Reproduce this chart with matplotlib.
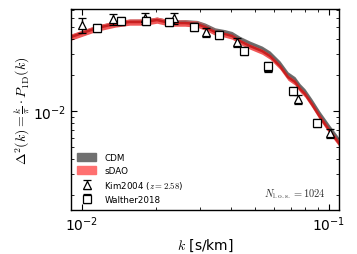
import matplotlib
matplotlib.use('Agg')
import matplotlib.pyplot as plt
from matplotlib.patches import Patch
from matplotlib.ticker import NullFormatter

plt.rcParams['mathtext.fontset'] = 'cm'
plt.rcParams['font.family'] = 'DejaVu Sans'

# model curves (k in s/km)
k_sim = [0.00903, 0.0103, 0.0115, 0.0136, 0.0156, 0.0180, 0.0201, 0.0227, 0.0261,
         0.0292, 0.0315, 0.0346, 0.0379, 0.0405, 0.0436, 0.0479, 0.0536, 0.0577,
         0.0633, 0.0682, 0.0728, 0.0763, 0.0799, 0.0853, 0.0920, 0.1009, 0.1098]
sdao_y = [0.0414, 0.0455, 0.0492, 0.0531, 0.0552, 0.0552, 0.0573, 0.0541, 0.0541,
          0.0531, 0.0501, 0.0455, 0.0438, 0.0422, 0.0383, 0.0348, 0.0316, 0.0287,
          0.0237, 0.0192, 0.0175, 0.0153, 0.0139, 0.0114, 0.0089, 0.0068, 0.0054]
cdm_y = [0.0415, 0.0456, 0.0494, 0.0533, 0.0555, 0.0556, 0.0577, 0.0547, 0.0550,
         0.0542, 0.0515, 0.0470, 0.0454, 0.0438, 0.0399, 0.0364, 0.0331, 0.0301,
         0.0249, 0.0202, 0.0184, 0.0161, 0.0146, 0.0120, 0.0094, 0.0072, 0.0057]

# Kim2004 (z = 2.58)
k_kim = [0.0100, 0.01335, 0.0180, 0.02357, 0.03177, 0.04241, 0.05662, 0.07489, 0.1009]
y_kim = [0.0521, 0.0584, 0.0596, 0.0596, 0.0455, 0.0376, 0.0233, 0.0126, 0.00655]
err_kim = [0.0075, 0.0065, 0.0065, 0.0060, 0.0040, 0.0033, 0.0020, 0.0011, 0.0006]

# Walther2018
k_wal = [0.0115, 0.01438, 0.01816, 0.0225, 0.02841, 0.03586, 0.04528, 0.05662, 0.07147, 0.08941]
y_wal = [0.0492, 0.0562, 0.0562, 0.0552, 0.0501, 0.0430, 0.0316, 0.0237, 0.0147, 0.00794]
err_wal = [0.0035, 0.0040, 0.0040, 0.0040, 0.0036, 0.0031, 0.0023, 0.0017, 0.0011, 0.0006]

fig = plt.figure(figsize=(3.57, 2.55), dpi=100)
ax = fig.add_axes([0.199, 0.1725, 0.7506, 0.7883])

# CDM band
ax.fill_between(k_sim, [v * 0.95 for v in cdm_y], [v * 1.05 for v in cdm_y],
                color='#707070', lw=0)
ax.plot(k_sim, cdm_y, color='#666666', lw=1.2)

# sDAO band
ax.fill_between(k_sim, [v * 0.94 for v in sdao_y], [v * 1.06 for v in sdao_y],
                color='#f05858', lw=0)
ax.plot(k_sim, sdao_y, color='#c82020', lw=1.8)

kim = ax.errorbar(k_kim, y_kim, yerr=err_kim, fmt='^', ms=5.5, mfc='white', mec='k',
                  mew=0.9, ecolor='k', elinewidth=1, capsize=3, capthick=1, zorder=5)
wal = ax.errorbar(k_wal, y_wal, yerr=err_wal, fmt='s', ms=5.5, mfc='white', mec='k',
                  mew=0.9, ecolor='k', elinewidth=1, capsize=3, capthick=1, zorder=6)

ax.set_xscale('log')
ax.set_yscale('log')
ax.set_xlim(0.00903, 0.1097)
ax.set_ylim(0.0015, 0.0708)
ax.yaxis.set_minor_formatter(NullFormatter())
ax.xaxis.set_minor_formatter(NullFormatter())

ax.tick_params(which='both', direction='in', top=True, right=True, labelsize=10)
ax.tick_params(which='major', length=4, width=0.8)
ax.tick_params(which='minor', length=2.2, width=0.6)
for s in ax.spines.values():
    s.set_linewidth(1)

ax.set_xlabel(r'$k$ [s/km]', fontsize=10, labelpad=2)
ax.set_ylabel(r'$\Delta^2(k) = \frac{k}{\pi}\cdot P_{\rm 1D}(k)$', fontsize=10, labelpad=1)

ax.text(0.95, 0.05, r'$N_{\rm l.o.s.} = 1024$', transform=ax.transAxes,
        ha='right', va='bottom', fontsize=7.5, color='#333333')

handles = [Patch(color='#707070'), Patch(color='#ff7070'), kim, wal]
labels = ['CDM', 'sDAO', r'Kim2004 ($z=2.58$)', 'Walther2018']
ax.legend(handles, labels, loc='lower left', fontsize=6.3, frameon=False,
          handlelength=2.2, handleheight=0.9, labelspacing=0.45,
          borderaxespad=0.3, handletextpad=0.9)

fig.savefig('out.png', dpi=100)
